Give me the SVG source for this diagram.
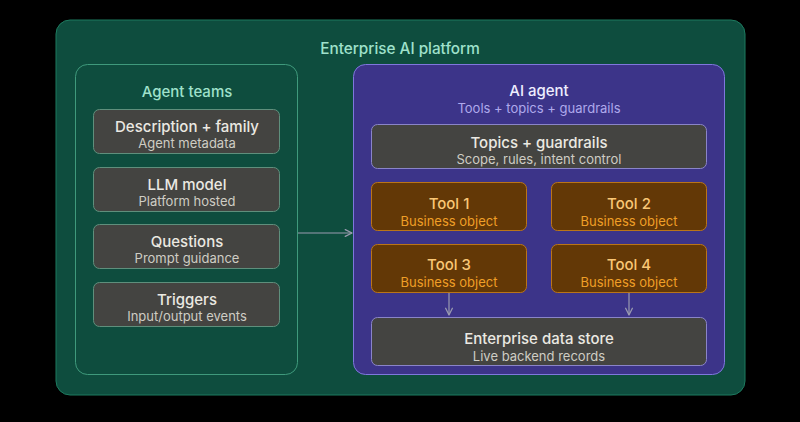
<svg xmlns="http://www.w3.org/2000/svg" width="800" height="422" viewBox="0 0 800 422">
<defs>
<marker id="ah" viewBox="0 0 10 10" refX="9" refY="5" markerWidth="7" markerHeight="7" orient="auto-start-reverse">
<path d="M1 1 L9 5 L1 9" fill="none" stroke="context-stroke" stroke-width="1.5" stroke-linecap="round" stroke-linejoin="round"/>
</marker>
<style>
text{font-family:Inter,"Liberation Sans",sans-serif;text-anchor:middle;dominant-baseline:central}
.t{font-size:15px;font-weight:500;fill:#ebe9e2}
.s{font-size:13px;fill:#cfcdc4}
.gray{fill:#444441;stroke:#5f8f7c;stroke-width:1}
.grayp{fill:#444441;stroke:#8a84c8;stroke-width:1}
.tool{fill:#633806;stroke:#ba7517;stroke-width:1}
.tt{font-size:15px;font-weight:500;fill:#fac775}
.ts{font-size:13px;fill:#ef9f27}
.conn{stroke:#9a9bb0;stroke-width:1.2;fill:none}
</style>
</defs>
<rect x="0" y="0" width="800" height="422" fill="#000"/>
<g id="platform">
<rect x="56" y="20" width="689" height="375" rx="14" fill="#0e4d3e" stroke="#1d7a5f" stroke-width="1"/>
<text x="400" y="48" style="font-size:15.3px;font-weight:500;fill:#9fe1cb">Enterprise AI platform</text>
</g>
<g id="agent-teams">
<rect x="75.5" y="64.5" width="222" height="310" rx="12" fill="#0e4d3e" stroke="#3f9a7c" stroke-width="1"/>
<text x="187" y="91" style="font-size:15px;font-weight:500;fill:#9fe1cb">Agent teams</text>
</g>
<g id="description">
<rect class="gray" x="93.5" y="109.5" width="186" height="44" rx="6"/>
<text class="t" x="187" y="126">Description + family</text>
<text class="s" x="187" y="143">Agent metadata</text>
</g>
<g id="llm">
<rect class="gray" x="93.5" y="167.5" width="186" height="44" rx="6"/>
<text class="t" x="187" y="184">LLM model</text>
<text class="s" x="187" y="201">Platform hosted</text>
</g>
<g id="questions">
<rect class="gray" x="93.5" y="224.5" width="186" height="44" rx="6"/>
<text class="t" x="187" y="241">Questions</text>
<text class="s" x="187" y="258">Prompt guidance</text>
</g>
<g id="triggers">
<rect class="gray" x="93.5" y="282.5" width="186" height="44" rx="6"/>
<text class="t" x="187" y="299">Triggers</text>
<text class="s" x="187" y="316">Input/output events</text>
</g>
<g id="ai-agent">
<rect x="353.5" y="64.5" width="371" height="310" rx="12" fill="#3c3489" stroke="#7f77dd" stroke-width="1"/>
<text x="539" y="90" style="font-size:15px;font-weight:500;fill:#eeedfe">AI agent</text>
<text x="539" y="108" style="font-size:13px;fill:#afa9ec">Tools + topics + guardrails</text>
</g>
<g id="topics">
<rect class="grayp" x="371.5" y="124.5" width="335" height="44" rx="6"/>
<text class="t" x="539" y="142">Topics + guardrails</text>
<text class="s" x="539" y="159">Scope, rules, intent control</text>
</g>
<g id="tool1">
<rect class="tool" x="371.5" y="182.5" width="155" height="48" rx="6"/>
<text class="tt" x="449" y="203">Tool 1</text>
<text class="ts" x="449" y="220.5">Business object</text>
</g>
<g id="tool2">
<rect class="tool" x="551.5" y="182.5" width="155" height="48" rx="6"/>
<text class="tt" x="629" y="203">Tool 2</text>
<text class="ts" x="629" y="220.5">Business object</text>
</g>
<g id="tool3">
<rect class="tool" x="371.5" y="244.5" width="155" height="48" rx="6"/>
<text class="tt" x="449" y="264">Tool 3</text>
<text class="ts" x="449" y="282">Business object</text>
</g>
<g id="tool4">
<rect class="tool" x="551.5" y="244.5" width="155" height="48" rx="6"/>
<text class="tt" x="629" y="264">Tool 4</text>
<text class="ts" x="629" y="282">Business object</text>
</g>
<g id="datastore">
<rect class="grayp" x="371.5" y="317.5" width="335" height="48" rx="6"/>
<text class="t" x="539" y="338">Enterprise data store</text>
<text class="s" x="539" y="355.5">Live backend records</text>
</g>
<g id="connectors">
<line class="conn" x1="298" y1="233" x2="352" y2="233" marker-end="url(#ah)"/>
<line class="conn" x1="449" y1="293" x2="449" y2="315" marker-end="url(#ah)"/>
<line class="conn" x1="629" y1="293" x2="629" y2="315" marker-end="url(#ah)"/>
</g>
</svg>
